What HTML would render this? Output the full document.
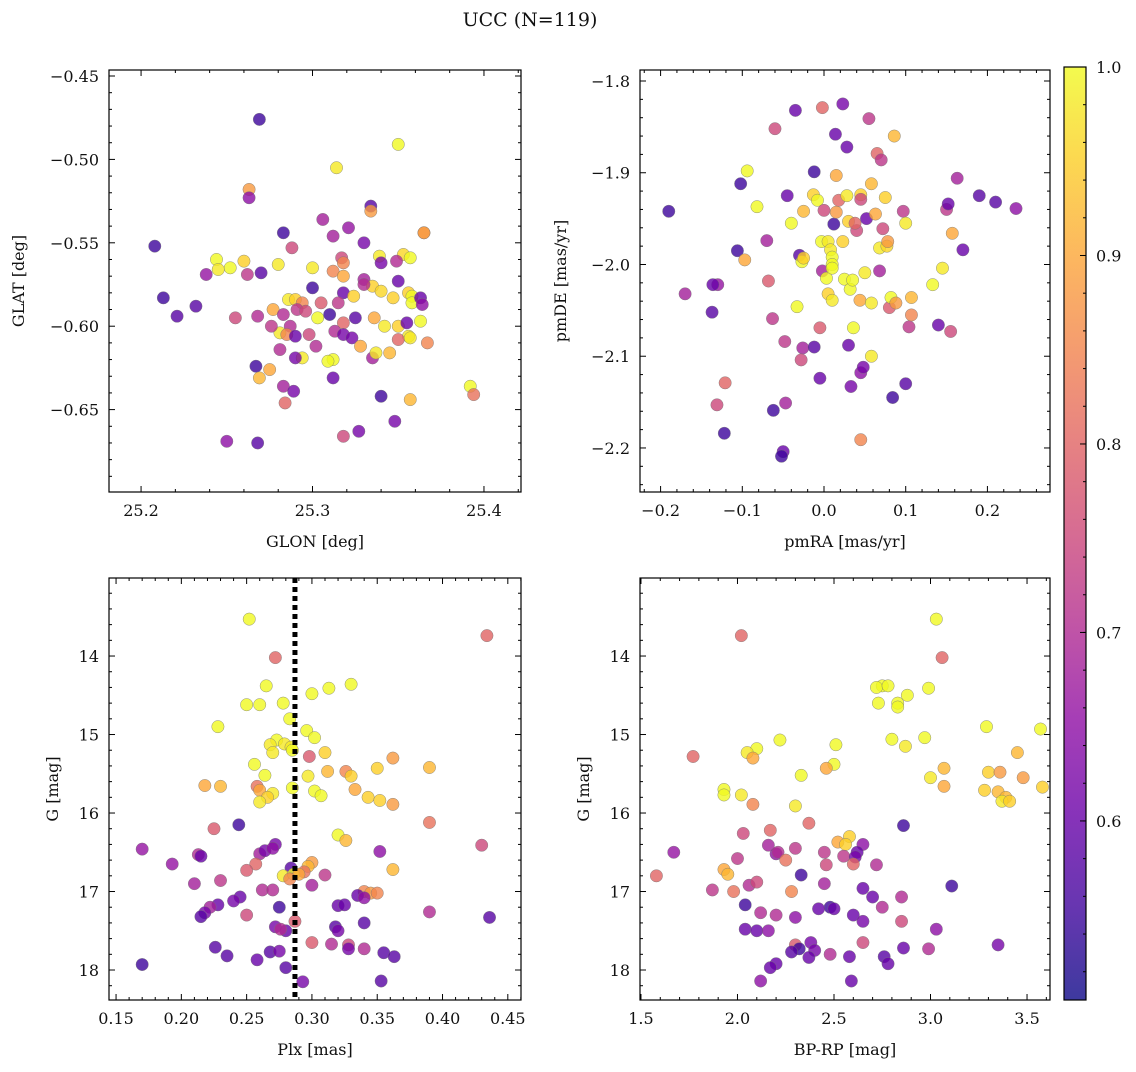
<!DOCTYPE html>
<html><head><meta charset="utf-8">
<style>
html,body{margin:0;padding:0;background:#fff;}
svg text{font-family:"DejaVu Serif","Liberation Serif",serif;fill:#111;}
</style></head>
<body>
<svg id="fig" width="1136" height="1067" viewBox="0 0 1136 1067" xmlns="http://www.w3.org/2000/svg">
<text x="530" y="26" font-size="19" text-anchor="middle">UCC (N=119)</text>
</svg>
<script>
// Panel 1: GLON / GLAT / membership probability
const glonVals=[25.269,25.350,25.314,25.263,25.263,25.334,25.334,25.306,25.321,25.312,25.365,25.283,25.288,25.330,25.208,25.244,25.260,25.252,25.245,25.262,25.238,25.270,25.280,25.300,25.317,25.318,25.339,25.340,25.353,25.357,25.349,25.312,25.318,25.330,25.335,25.330,25.340,25.350,25.356,25.358,25.358,25.300,25.318,25.324,25.286,25.290,25.294,25.291,25.277,25.283,25.296,25.305,25.315,25.347,25.363,25.364,25.213,25.221,25.232,25.255,25.268,25.303,25.310,25.318,25.325,25.336,25.342,25.350,25.355,25.287,25.281,25.276,25.285,25.313,25.318,25.323,25.298,25.302,25.294,25.312,25.309,25.335,25.328,25.337,25.345,25.356,25.350,25.357,25.367,25.365,25.363,25.281,25.290,25.267,25.275,25.269,25.283,25.289,25.312,25.284,25.340,25.348,25.327,25.318,25.250,25.268,25.357,25.392,25.394,25.290];
const glatVals=[-0.476,-0.491,-0.505,-0.518,-0.523,-0.528,-0.531,-0.536,-0.541,-0.546,-0.544,-0.544,-0.553,-0.550,-0.552,-0.560,-0.561,-0.565,-0.566,-0.569,-0.569,-0.568,-0.563,-0.565,-0.559,-0.562,-0.558,-0.562,-0.557,-0.559,-0.561,-0.567,-0.570,-0.572,-0.576,-0.575,-0.579,-0.573,-0.580,-0.582,-0.586,-0.577,-0.580,-0.582,-0.584,-0.584,-0.586,-0.590,-0.590,-0.593,-0.591,-0.586,-0.586,-0.583,-0.583,-0.587,-0.583,-0.594,-0.588,-0.595,-0.594,-0.595,-0.593,-0.598,-0.595,-0.595,-0.600,-0.600,-0.598,-0.600,-0.604,-0.600,-0.605,-0.603,-0.605,-0.607,-0.605,-0.612,-0.619,-0.620,-0.621,-0.619,-0.612,-0.616,-0.616,-0.606,-0.608,-0.607,-0.610,-0.544,-0.597,-0.614,-0.619,-0.624,-0.626,-0.631,-0.636,-0.639,-0.631,-0.646,-0.642,-0.657,-0.663,-0.666,-0.669,-0.670,-0.644,-0.636,-0.641,-0.606];
const prob1=[.55,1,.98,.88,.65,.58,.88,.68,.66,.68,.88,.55,.75,.62,.55,1,.95,1,.98,.72,.66,.58,.98,.98,.75,.85,.98,.62,.96,1,.7,.85,.9,.68,.95,.7,.96,.6,.95,1,1,.55,.6,.95,.98,.95,.85,.72,.9,.7,.75,.78,.72,.95,.6,.65,.55,.58,.58,.75,.7,1,.55,.8,.58,.9,.98,.95,.6,.7,.98,.72,.85,.7,.62,.62,.75,.7,.98,1,1,.68,.9,.98,.92,.98,.8,.98,.85,.88,1,.7,.62,.55,.9,.92,.68,.62,.6,.8,.55,.62,.62,.75,.65,.58,.92,1,.82,.6];

// Panel 2: pmRA / pmDE
const pmraVals=[-0.19,-0.17,-0.13,-0.136,-0.137,-0.121,-0.131,-0.122,-0.106,-0.102,-0.094,-0.097,-0.082,-0.068,-0.07,-0.063,-0.06,-0.062,-0.05,-0.052,-0.048,-0.047,-0.04,-0.045,-0.035,-0.033,-0.03,-0.027,-0.025,-0.026,-0.028,-0.025,-0.012,-0.012,-0.013,-0.008,-0.005,-0.005,-0.003,-0.002,0.0,0.005,0.003,0.005,0.008,0.01,0.01,0.01,0.012,0.01,0.014,0.015,0.015,-0.002,0.023,0.018,0.023,0.025,0.028,0.028,0.03,0.03,0.032,0.035,0.033,0.036,0.04,0.038,0.045,0.045,0.044,0.045,0.045,0.048,0.05,0.052,0.055,0.058,0.058,0.058,0.063,0.065,0.068,0.068,0.07,0.072,0.075,0.077,0.078,0.08,0.082,0.084,0.086,0.088,0.097,0.1,0.1,0.104,0.107,0.107,0.133,0.14,0.145,0.15,0.152,0.155,0.157,0.163,0.17,0.19,0.21,0.235];
const pmdeVals=[-1.942,-2.032,-2.022,-2.022,-2.052,-2.129,-2.153,-2.184,-1.985,-1.912,-1.898,-1.995,-1.937,-2.018,-1.974,-2.059,-1.852,-2.159,-2.204,-2.209,-2.084,-2.151,-1.955,-1.925,-1.832,-2.046,-1.99,-1.997,-1.993,-2.091,-2.104,-1.942,-1.899,-2.09,-1.924,-1.93,-2.069,-2.124,-1.975,-2.007,-1.941,-1.975,-2.015,-2.032,-1.984,-1.992,-2.0,-2.004,-1.956,-2.039,-1.858,-1.903,-1.943,-1.829,-1.825,-1.93,-1.975,-2.016,-1.872,-1.925,-1.953,-2.088,-2.027,-2.017,-2.133,-2.069,-1.963,-1.955,-1.924,-1.929,-2.039,-2.118,-2.191,-2.112,-2.009,-1.95,-1.841,-1.912,-2.042,-2.1,-1.945,-1.879,-1.982,-2.007,-1.886,-1.961,-1.927,-1.98,-1.975,-2.047,-2.036,-2.145,-1.86,-2.042,-1.942,-2.13,-1.955,-2.068,-2.036,-2.055,-2.022,-2.066,-2.004,-1.94,-1.934,-2.073,-1.966,-1.906,-1.984,-1.925,-1.932,-1.939];
const prob2=[.55,.68,.66,.6,.58,.8,.75,.55,.55,.55,1,.9,1,.78,.68,.72,.75,.55,.6,.55,.72,.68,1,.6,.6,1,.58,1,.95,.68,.75,.92,.55,.58,.95,1,.78,.6,1,.68,.75,.98,1,.95,.98,1,1,1,.55,.98,.6,.9,.88,.8,.62,.8,.95,1,.6,.98,.95,.6,1,1,.62,1,.75,.8,.95,.75,.9,.65,.85,.62,.98,.6,.72,.92,.98,.98,.9,.8,.98,.68,.72,.75,.95,.96,.88,.78,1,.55,.92,.88,.72,.58,.98,.72,.92,.85,1,.6,.98,.72,.6,.75,.9,.68,.6,.58,.58,.65];

// Panel 3: Plx / G
const plxVals=[0.252,0.434,0.272,0.265,0.25,0.26,0.278,0.3,0.313,0.33,0.283,0.228,0.296,0.273,0.268,0.279,0.284,0.285,0.302,0.298,0.31,0.27,0.256,0.264,0.297,0.312,0.326,0.33,0.35,0.362,0.39,0.218,0.23,0.258,0.26,0.27,0.266,0.26,0.285,0.302,0.307,0.333,0.343,0.352,0.362,0.39,0.244,0.225,0.32,0.326,0.272,0.43,0.17,0.213,0.215,0.26,0.264,0.27,0.352,0.3,0.297,0.193,0.257,0.362,0.284,0.25,0.23,0.294,0.278,0.286,0.29,0.283,0.31,0.21,0.262,0.27,0.3,0.34,0.345,0.35,0.335,0.34,0.245,0.24,0.228,0.222,0.218,0.215,0.25,0.275,0.32,0.325,0.39,0.436,0.287,0.272,0.28,0.276,0.318,0.32,0.34,0.328,0.3,0.315,0.34,0.355,0.328,0.226,0.235,0.258,0.268,0.275,0.28,0.17,0.293,0.353,0.363];
const gPlxVals=[13.53,13.74,14.02,14.38,14.62,14.62,14.6,14.48,14.41,14.36,14.8,14.9,14.95,15.07,15.13,15.12,15.16,15.2,15.04,15.28,15.23,15.23,15.38,15.52,15.53,15.47,15.47,15.53,15.43,15.3,15.42,15.65,15.66,15.66,15.71,15.75,15.8,15.86,15.68,15.72,15.78,15.7,15.8,15.84,15.89,16.12,16.15,16.2,16.28,16.35,16.4,16.41,16.46,16.53,16.55,16.52,16.48,16.45,16.49,16.63,16.68,16.65,16.65,16.72,16.7,16.73,16.86,16.75,16.8,16.78,16.78,16.84,16.79,16.9,16.98,16.98,16.92,17.0,17.02,17.02,17.05,17.08,17.07,17.12,17.17,17.2,17.27,17.32,17.3,17.2,17.18,17.17,17.26,17.33,17.38,17.45,17.5,17.48,17.45,17.5,17.4,17.68,17.65,17.67,17.73,17.78,17.73,17.71,17.82,17.87,17.77,17.76,17.97,17.93,18.15,18.14,17.83];
const prob3=[1,.8,.8,1,1,1,1,1,1,1,1,1,1,1,.98,.98,.98,1,1,.78,.95,.98,1,1,.98,.92,.85,.95,.95,.88,.92,.9,.92,.82,.9,.98,.95,.98,1,1,1,.9,.95,.95,.88,.82,.55,.78,1,.92,.62,.75,.66,.7,.6,.68,.62,.65,.65,.88,.92,.66,.8,.92,.58,.78,.72,.82,.98,1,.9,.85,.72,.68,.7,.7,.68,.85,.88,.85,.6,.65,.6,.62,.6,.68,.62,.58,.75,.55,.6,.6,.7,.58,.78,.62,.6,.7,.58,.62,.58,.75,.78,.7,.7,.58,.62,.58,.58,.6,.58,.62,.58,.55,.62,.58,.58];
const plxRef=[0.287];

// Panel 4: BP-RP / G
const bprpVals=[3.03,2.02,3.06,2.75,2.72,2.78,2.83,2.73,2.88,2.99,2.83,3.29,3.57,2.8,2.87,2.97,2.22,2.1,2.05,2.08,2.51,3.45,1.77,3.07,2.5,2.46,2.33,3.0,3.3,3.36,3.48,1.93,1.93,2.02,3.07,3.28,3.35,3.39,3.37,3.41,3.58,2.3,2.08,2.37,2.03,2.86,2.17,2.58,2.52,2.56,2.65,2.16,2.2,2.21,2.3,2.62,2.55,2.45,2.61,1.67,2.0,2.25,2.46,2.6,2.72,2.33,1.93,1.95,1.58,2.06,2.1,1.87,1.98,2.28,2.45,2.65,2.7,2.75,3.11,2.85,2.04,2.12,2.2,2.3,2.48,2.5,2.42,2.6,2.65,2.85,3.03,2.04,2.1,2.16,2.3,2.38,2.4,2.32,2.28,2.65,2.86,2.99,3.35,2.76,2.78,2.58,2.48,2.37,2.2,2.17,2.12,2.59];
const gColVals=[13.53,13.74,14.02,14.38,14.4,14.38,14.6,14.6,14.5,14.41,14.65,14.9,14.93,15.06,15.15,15.04,15.07,15.18,15.23,15.3,15.13,15.23,15.28,15.43,15.38,15.43,15.52,15.55,15.48,15.48,15.55,15.7,15.77,15.77,15.66,15.71,15.73,15.8,15.85,15.85,15.67,15.91,15.89,16.13,16.26,16.16,16.22,16.3,16.37,16.4,16.4,16.41,16.52,16.5,16.45,16.5,16.55,16.5,16.56,16.5,16.58,16.6,16.66,16.65,16.66,16.79,16.72,16.78,16.8,16.92,16.88,16.98,17.0,17.0,16.9,16.96,17.07,17.2,16.93,17.07,17.17,17.27,17.3,17.33,17.2,17.22,17.22,17.3,17.38,17.38,17.48,17.48,17.5,17.5,17.68,17.65,17.75,17.73,17.77,17.65,17.72,17.73,17.68,17.83,17.92,17.83,17.8,17.84,17.92,17.97,18.14,18.14];
const prob4=[1,.8,.8,1,1,1,1,1,1,1,1,1,1,1,.98,1,1,1,.98,.9,1,.92,.8,.92,1,.9,1,.98,.95,.88,.88,1,1,.98,.9,.95,.92,.92,.98,.95,.95,.98,.85,.8,.75,.55,.8,.95,.9,.95,.65,.68,.65,.7,.72,.6,.72,.72,.62,.66,.72,.82,.75,.8,.7,.55,.9,.92,.8,.7,.75,.72,.82,.85,.68,.6,.6,.7,.55,.7,.55,.7,.7,.65,.55,.6,.6,.6,.62,.75,.65,.6,.6,.65,.78,.62,.62,.55,.58,.75,.6,.7,.62,.58,.6,.6,.7,.6,.6,.6,.65,.6];

// Colorbar ticks
const cbTicks=[0.6,0.7,0.8,0.9,1.0];

const NS="http://www.w3.org/2000/svg";
const svg=document.getElementById('fig');
const VMIN=0.505,VMAX=1.0;
const plasma=[[13,8,135],[65,4,157],[106,0,168],[143,13,164],[177,42,144],[204,71,120],[225,100,98],[242,132,75],[252,166,54],[252,206,37],[240,249,33]];
function cmap(v){let t=(v-VMIN)/(VMAX-VMIN);t=Math.max(0,Math.min(1,t))*10;const i=Math.min(9,Math.floor(t)),f=t-i;const a=plasma[i],b=plasma[i+1];return 'rgb('+a.map((c,k)=>Math.round(c+(b[k]-c)*f)).join(',')+')';}
function mk(tag,attrs,parent){const e=document.createElementNS(NS,tag);for(const k in attrs)e.setAttribute(k,attrs[k]);(parent||svg).appendChild(e);return e;}
function fmt(v,d){if(Math.abs(v)<1e-9)v=0;let s=v.toFixed(d);if(parseFloat(s)===0)s=(0).toFixed(d);return s.replace('-','\u2212');}

function panel(cfg){
  const g=mk('g',{});
  
  
  const X=v=>cfg.x0+(v-cfg.xmin)/(cfg.xmax-cfg.xmin)*(cfg.x1-cfg.x0);
  const Y=cfg.invert?(v=>cfg.y0+(v-cfg.ymin)/(cfg.ymax-cfg.ymin)*(cfg.y1-cfg.y0)):(v=>cfg.y1-(v-cfg.ymin)/(cfg.ymax-cfg.ymin)*(cfg.y1-cfg.y0));
  const pg=mk('g',{},g);
  
  
  for(let i=0;i<cfg.xs.length;i++){
    const c=mk('circle',{cx:X(cfg.xs[i]),cy:Y(cfg.ys[i]),r:6.2,fill:cmap(cfg.ps[i]),'fill-opacity':0.8,stroke:'#777','stroke-width':0.5,'stroke-opacity':0.8},pg);
    
    
  }
  if(cfg.vline){
    const l=mk('line',{x1:X(cfg.vline[0]),x2:X(cfg.vline[0]),y1:cfg.y0,y2:cfg.y1,stroke:'#000','stroke-width':5,'stroke-dasharray':'5,4'},g);
    
    
  }
  const fr=mk('rect',{x:cfg.x0,y:cfg.y0,width:cfg.x1-cfg.x0,height:cfg.y1-cfg.y0,fill:'none',stroke:'#000','stroke-width':1.2},g);
  
  
  const eps=1e-9;
  for(let v=Math.ceil(cfg.xmin/cfg.xminor-eps)*cfg.xminor;v<=cfg.xmax+eps;v+=cfg.xminor){
    const px=X(v);const major=Math.abs(v/cfg.xmajor-Math.round(v/cfg.xmajor))<1e-4;const L=major?6:3;
    mk('line',{x1:px,x2:px,y1:cfg.y1,y2:cfg.y1-L,stroke:'#000','stroke-width':1},g);
    mk('line',{x1:px,x2:px,y1:cfg.y0,y2:cfg.y0+L,stroke:'#000','stroke-width':1},g);
    if(major){const t=mk('text',{x:px,y:cfg.y1+24,'font-size':16,'text-anchor':'middle'},g);t.textContent=fmt(v,cfg.xd);
      }
  }
  for(let v=Math.ceil(cfg.ymin/cfg.yminor-eps)*cfg.yminor;v<=cfg.ymax+eps;v+=cfg.yminor){
    const py=Y(v);const major=Math.abs(v/cfg.ymajor-Math.round(v/cfg.ymajor))<1e-4;const L=major?6:3;
    mk('line',{x1:cfg.x0,x2:cfg.x0+L,y1:py,y2:py,stroke:'#000','stroke-width':1},g);
    mk('line',{x1:cfg.x1,x2:cfg.x1-L,y1:py,y2:py,stroke:'#000','stroke-width':1},g);
    if(major){const t=mk('text',{x:cfg.x0-10,y:py+6,'font-size':16,'text-anchor':'end'},g);t.textContent=fmt(v,cfg.yd);
      }
  }
  const xl=mk('text',{x:(cfg.x0+cfg.x1)/2,y:cfg.y1+55,'font-size':16,'text-anchor':'middle'},g);xl.textContent=cfg.xlabel;
  
  const yx=cfg.ylx,yy=(cfg.y0+cfg.y1)/2;
  const yl=mk('text',{x:yx,y:yy,'font-size':16,'text-anchor':'middle',transform:'rotate(-90 '+yx+' '+yy+')'},g);yl.textContent=cfg.ylabel;
  
}

panel({name:'glon-glat-panel',x0:109,x1:521,y0:70,y1:492,xmin:25.1813,xmax:25.4216,ymin:-0.6994,ymax:-0.4464,xs:glonVals,ys:glatVals,ps:prob1,xmajor:0.1,xminor:0.02,ymajor:0.05,yminor:0.01,xd:1,yd:2,xlabel:'GLON [deg]',ylabel:'GLAT [deg]',ylx:24});
panel({name:'proper-motion-panel',x0:640,x1:1050,y0:70,y1:492,xmin:-0.2252,xmax:0.2766,ymin:-2.248,ymax:-1.788,xs:pmraVals,ys:pmdeVals,ps:prob2,xmajor:0.1,xminor:0.02,ymajor:0.1,yminor:0.02,xd:1,yd:1,xlabel:'pmRA [mas/yr]',ylabel:'pmDE [mas/yr]',ylx:566});
panel({name:'plx-g-panel',x0:109,x1:521,y0:578,y1:1000,xmin:0.1446,xmax:0.4601,ymin:13.006,ymax:18.382,invert:true,xs:plxVals,ys:gPlxVals,ps:prob3,vline:plxRef,xmajor:0.05,xminor:0.01,ymajor:1,yminor:0.2,xd:2,yd:0,xlabel:'Plx [mas]',ylabel:'G [mag]',ylx:58});
panel({name:'cmd-panel',x0:640,x1:1050,y0:578,y1:1000,xmin:1.495,xmax:3.619,ymin:13.006,ymax:18.382,invert:true,xs:bprpVals,ys:gColVals,ps:prob4,xmajor:0.5,xminor:0.1,ymajor:1,yminor:0.2,xd:1,yd:0,xlabel:'BP-RP [mag]',ylabel:'G [mag]',ylx:589});

(function(){
  const g=mk('g',{});
  
  
  const x0=1064,x1=1086,y0=67,y1=1000;
  const defs=mk('defs',{},g);
  const lg=mk('linearGradient',{id:'cbg',x1:0,y1:1,x2:0,y2:0},defs);
  for(let i=0;i<=20;i++){const v=VMIN+(VMAX-VMIN)*i/20;const c=cmap(v);
    mk('stop',{offset:(i/20),'stop-color':c,'stop-opacity':0.8},lg);}
  mk('rect',{x:x0,y:y0,width:x1-x0,height:y1-y0,fill:'url(#cbg)',stroke:'#000','stroke-width':1.2},g);
  const Y=v=>y1-(v-VMIN)/(VMAX-VMIN)*(y1-y0);
  for(let v=0.52;v<=1.0001;v+=0.02){mk('line',{x1:x1,x2:x1-3,y1:Y(v),y2:Y(v),stroke:'#000'},g);}
  cbTicks.forEach(v=>{
    mk('line',{x1:x1,x2:x1-6,y1:Y(v),y2:Y(v),stroke:'#000'},g);
    const t=mk('text',{x:x1+10,y:Y(v)+6,'font-size':16},g);t.textContent=v.toFixed(1);
    
  });
})();
</script>
</body></html>
